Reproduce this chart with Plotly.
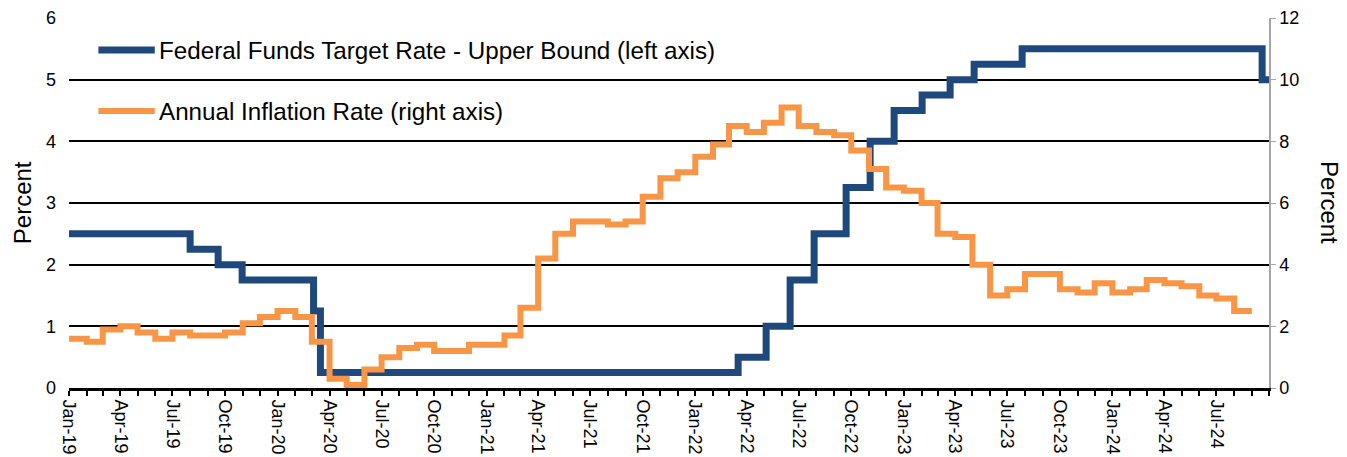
import pandas as pd
import plotly.graph_objects as go

# Federal funds target rate, upper bound (percent): effective date of each change
fed_dates = [
    "2019-01-01", "2019-08-01", "2019-09-19", "2019-10-31", "2020-03-04",
    "2020-03-16", "2022-03-17", "2022-05-05", "2022-06-16", "2022-07-28",
    "2022-09-22", "2022-11-03", "2022-12-15", "2023-02-02", "2023-03-23",
    "2023-05-04", "2023-07-27", "2024-09-19", "2024-10-01",
]
fed_rates = [
    2.50, 2.25, 2.00, 1.75, 1.25,
    0.25, 0.50, 1.00, 1.75, 2.50,
    3.25, 4.00, 4.50, 4.75, 5.00,
    5.25, 5.50, 5.00, 5.00,
]

# Annual CPI inflation rate (percent), monthly from Jan-2019
cpi_start = "2019-01-01"
cpi_values = [
    1.6, 1.5, 1.9, 2.0, 1.8, 1.6, 1.8, 1.7, 1.7, 1.8, 2.1, 2.3,   # 2019
    2.5, 2.3, 1.5, 0.3, 0.1, 0.6, 1.0, 1.3, 1.4, 1.2, 1.2, 1.4,   # 2020
    1.4, 1.7, 2.6, 4.2, 5.0, 5.4, 5.4, 5.3, 5.4, 6.2, 6.8, 7.0,   # 2021
    7.5, 7.9, 8.5, 8.3, 8.6, 9.1, 8.5, 8.3, 8.2, 7.7, 7.1, 6.5,   # 2022
    6.4, 6.0, 5.0, 4.9, 4.0, 3.0, 3.2, 3.7, 3.7, 3.2, 3.1, 3.4,   # 2023
    3.1, 3.2, 3.5, 3.4, 3.3, 3.0, 2.9, 2.5,                       # 2024
]

fed_label = "Federal Funds Target Rate - Upper Bound (left axis)"
cpi_label = "Annual Inflation Rate (right axis)"

BLUE = "#1F497D"
ORANGE = "#F79646"
FONT = "Liberation Sans, Arial, sans-serif"

# Each monthly reading is held for the whole month
cpi_months = pd.date_range(cpi_start, periods=len(cpi_values) + 1, freq="MS")
cpi_y = cpi_values + [cpi_values[-1]]

fig = go.Figure()
fig.add_trace(go.Scatter(
    x=pd.to_datetime(fed_dates), y=fed_rates, name=fed_label,
    mode="lines", line=dict(color=BLUE, width=7, shape="hv"),
    yaxis="y", showlegend=False,
))
fig.add_trace(go.Scatter(
    x=cpi_months, y=cpi_y, name=cpi_label,
    mode="lines", line=dict(color=ORANGE, width=6, shape="hv"),
    yaxis="y2", showlegend=False,
))

tick_dates = pd.date_range("2019-01-01", "2024-07-01", freq="3MS")

fig.update_layout(
    width=1347, height=457,
    margin=dict(l=69, r=78, t=18, b=69),
    paper_bgcolor="white", plot_bgcolor="white",
    font=dict(family=FONT, size=18, color="black"),
    xaxis=dict(
        type="date",
        range=["2019-01-01", "2024-10-01"],
        tickvals=tick_dates,
        ticktext=[d.strftime("%b-%y") for d in tick_dates],
        tickangle=90,
        ticks="outside", ticklen=5, tickwidth=2, tickcolor="black",
        minor=dict(dtick="M1", tick0="2019-01-01", ticks="outside",
                   ticklen=5, tickwidth=2, tickcolor="black", showgrid=False),
        showgrid=False, zeroline=False,
        showline=True, linecolor="black", linewidth=3,
        tickfont=dict(size=18),
        automargin=False,
    ),
    yaxis=dict(
        range=[0, 6], dtick=1,
        showgrid=True, gridcolor="black", gridwidth=2,
        zeroline=False, showline=False, ticks="",
        ticklabelstandoff=12,
        tickfont=dict(size=18),
        automargin=False,
    ),
    yaxis2=dict(
        range=[0, 12], dtick=2, overlaying="y", side="right",
        showgrid=False, zeroline=False,
        showline=True, linecolor="#A6A6A6", linewidth=1.5,
        ticks="outside", ticklen=5, tickcolor="#A6A6A6",
        tickfont=dict(size=18),
        automargin=False,
    ),
)

# Axis titles
fig.add_annotation(text="Percent", xref="paper", yref="paper", x=-0.039, y=0.5,
                   textangle=-90, showarrow=False, font=dict(size=24),
                   xanchor="center", yanchor="middle")
fig.add_annotation(text="Percent", xref="paper", yref="paper", x=1.0508, y=0.5,
                   textangle=90, showarrow=False, font=dict(size=24),
                   xanchor="center", yanchor="middle")

# Legend drawn as line samples with text labels
legend_items = [(fed_label, BLUE, 7, 0.9135), (cpi_label, ORANGE, 6, 0.7486)]
for label, color, width, ypos in legend_items:
    fig.add_shape(type="line", xref="paper", yref="paper",
                  x0=0.0245, x1=0.0715, y0=ypos, y1=ypos,
                  line=dict(color=color, width=width))
    fig.add_annotation(text=label, xref="paper", yref="paper",
                       x=0.0735, y=ypos, xanchor="left", yanchor="middle",
                       showarrow=False, font=dict(size=24.2))

fig.write_html("out.html")
